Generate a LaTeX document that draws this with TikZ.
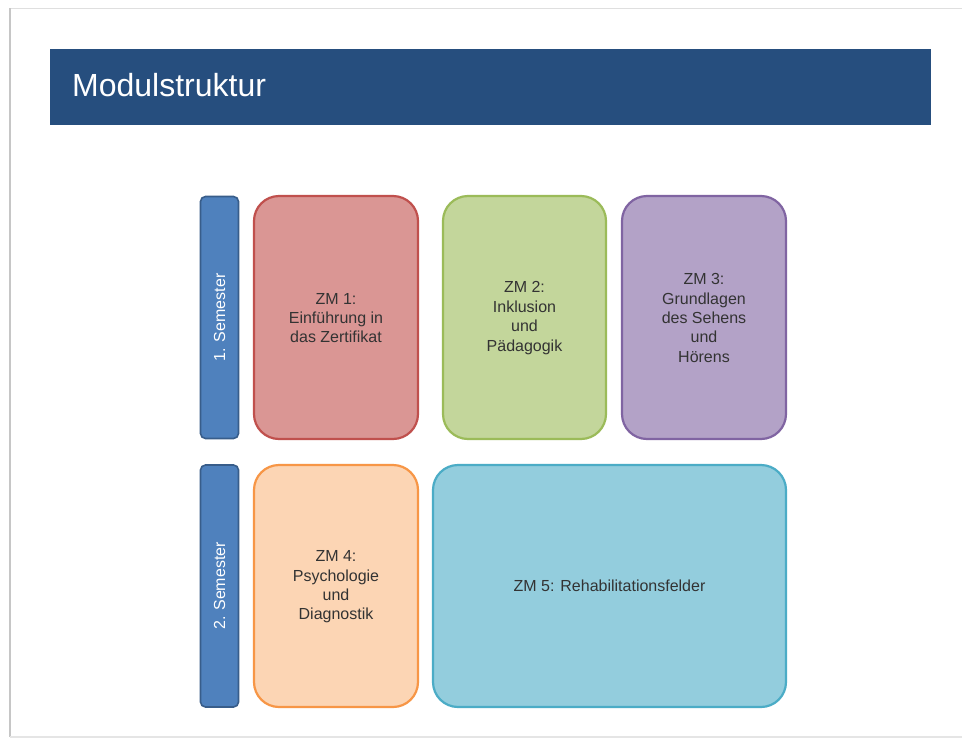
\documentclass[tikz,border=0pt]{standalone}
\usepackage{fontspec}
\setmainfont{Liberation Sans}
\begin{document}
\begin{tikzpicture}[x=1pt,y=-1pt,
  semester/.style={draw=semborder,fill=semfill,line width=1.6pt,rounded corners=5pt,
    minimum width=38pt,minimum height=242pt,inner sep=0pt},
  semlabel/.style={rotate=90,text=white,font=\fontsize{16}{18}\selectfont,inner sep=0pt},
  module/.style={line width=2.2pt,rounded corners=25pt,inner sep=0pt,
    text=textgray,align=center,font=\fontsize{16}{19.4}\selectfont}]
\definecolor{titlebar}{HTML}{264E7E}
\definecolor{semfill}{HTML}{4F81BD}
\definecolor{semborder}{HTML}{385D8A}
\definecolor{textgray}{HTML}{333333}
\definecolor{redfill}{HTML}{DA9694}
\definecolor{redborder}{HTML}{C0504D}
\definecolor{greenfill}{HTML}{C3D69B}
\definecolor{greenborder}{HTML}{9BBB59}
\definecolor{purplefill}{HTML}{B3A2C7}
\definecolor{purpleborder}{HTML}{8064A2}
\definecolor{orangefill}{HTML}{FCD5B4}
\definecolor{orangeborder}{HTML}{F79646}
\definecolor{bluefill}{HTML}{93CDDD}
\definecolor{blueborder}{HTML}{4BACC6}
\useasboundingbox (0,0) rectangle (962,742);
\fill[white] (0,0) rectangle (962,742);
% slide frame
\draw[gray!25,line width=1pt] (10,8) -- (962,8);
\draw[gray!45,line width=2pt] (10,8) -- (10,737);
\draw[gray!20,line width=1.5pt] (10,737) -- (962,737);
% title bar
\fill[titlebar] (50,49) rectangle (931,125);
\node[anchor=west,inner sep=0pt,text=white,font=\fontsize{32}{36}\selectfont] (title) at (72,85) {Modulstruktur};
% semester bars
\node[semester] (s1) at (219.5,317.5) {};
\node[semlabel] (s1t) at (s1.center) {1. Semester};
\node[semester] (s2) at (219.5,586) {};
\node[semlabel] (s2t) at (s2.center) {2. Semester};
% modules
\path[module,draw=redborder,fill=redfill] (254,196) rectangle (418,439);
\node[module,draw=none] (zm1) at (336,318) {ZM 1:\\Einführung in\\das Zertifikat};
\path[module,draw=greenborder,fill=greenfill] (443,196) rectangle (606,439);
\node[module,draw=none] (zm2) at (524.5,318) {ZM 2:\\Inklusion\\und\\Pädagogik};
\path[module,draw=purpleborder,fill=purplefill] (622,196) rectangle (786,439);
\node[module,draw=none] (zm3) at (704,318) {ZM 3:\\Grundlagen\\des Sehens\\und\\Hörens};
\path[module,draw=orangeborder,fill=orangefill] (254,465) rectangle (418,707);
\node[module,draw=none] (zm4) at (336,587) {ZM 4:\\Psychologie\\und\\Diagnostik};
\path[module,draw=blueborder,fill=bluefill] (433,465) rectangle (786,707);
\node[module,draw=none] (zm5) at (609.5,586) {ZM 5: Rehabilitationsfelder};
\end{tikzpicture}
\end{document}
